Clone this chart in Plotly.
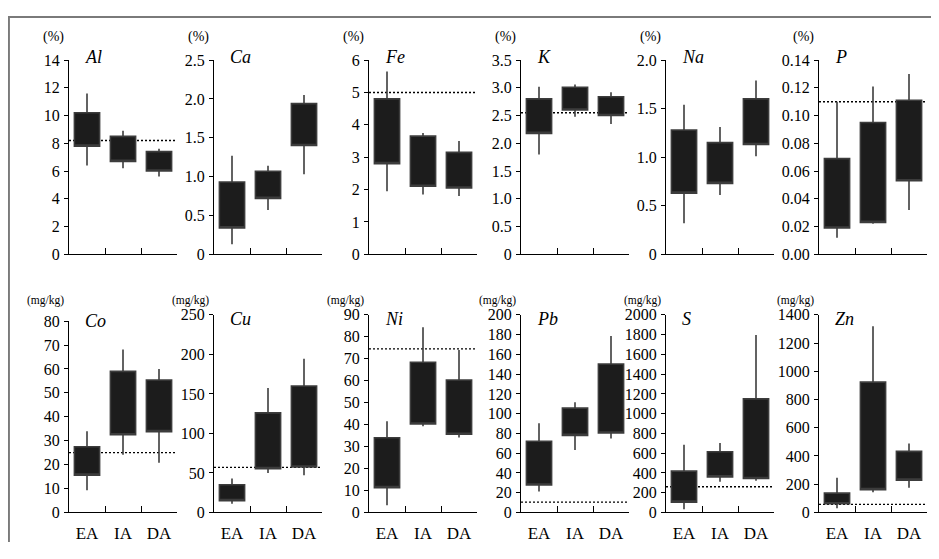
import plotly.graph_objects as go

# ---------------- data ----------------
categories = ["EA", "IA", "DA"]

elements = ["Al", "Ca", "Fe", "K", "Na", "P", "Co", "Cu", "Ni", "Pb", "S", "Zn"]
units = ["(%)"] * 6 + ["(mg/kg)"] * 6

# whisker low, box bottom (Q1), box top (Q3), whisker high  -> per site EA, IA, DA
al_min = [6.4, 6.2, 5.6]
al_q1 = [7.8, 6.7, 6.0]
al_q3 = [10.2, 8.5, 7.4]
al_max = [11.6, 8.9, 7.6]

ca_min = [0.13, 0.57, 1.03]
ca_q1 = [0.34, 0.72, 1.40]
ca_q3 = [0.93, 1.07, 1.94]
ca_max = [1.27, 1.14, 2.05]

fe_min = [1.95, 1.85, 1.8]
fe_q1 = [2.8, 2.1, 2.05]
fe_q3 = [4.8, 3.65, 3.15]
fe_max = [5.65, 3.75, 3.5]

k_min = [1.80, 2.48, 2.35]
k_q1 = [2.18, 2.60, 2.50]
k_q3 = [2.80, 3.01, 2.84]
k_max = [3.02, 3.06, 2.92]

na_min = [0.32, 0.61, 1.01]
na_q1 = [0.63, 0.73, 1.13]
na_q3 = [1.28, 1.15, 1.60]
na_max = [1.54, 1.31, 1.79]

p_min = [0.012, 0.022, 0.032]
p_q1 = [0.019, 0.023, 0.053]
p_q3 = [0.069, 0.095, 0.111]
p_max = [0.110, 0.121, 0.130]

co_min = [9.3, 24.1, 20.8]
co_q1 = [15.6, 32.5, 33.8]
co_q3 = [27.5, 59.0, 55.4]
co_max = [34.0, 68.1, 60.0]

cu_min = [11.0, 50.0, 47.0]
cu_q1 = [15.0, 55.5, 57.5]
cu_q3 = [35.0, 126.0, 160.0]
cu_max = [43.0, 157.5, 194.5]

ni_min = [3.3, 39.3, 34.1]
ni_q1 = [11.3, 40.3, 35.6]
ni_q3 = [34.0, 68.4, 60.3]
ni_max = [41.5, 84.4, 74.0]

pb_min = [21.3, 63.3, 74.8]
pb_q1 = [27.8, 78.0, 80.4]
pb_q3 = [72.1, 105.6, 150.2]
pb_max = [90.2, 111.5, 178.7]

s_min = [33, 311, 320]
s_q1 = [105, 360, 343]
s_q3 = [418, 615, 1150]
s_max = [686, 703, 1795]

zn_min = [30, 143, 175]
zn_q1 = [62, 162, 229]
zn_q3 = [137, 923, 433]
zn_max = [245, 1319, 489]

# reference (dotted) levels; None = no line
ref_levels = [8.2, None, 5.0, 2.55, None, 0.110, 25.0, 57.0, 74.5, 10.5, 260, 57]

# y tick values / labels
al_ticks = [0, 2, 4, 6, 8, 10, 12, 14]
ca_ticks = [0, 0.5, 1.0, 1.5, 2.0, 2.5]
fe_ticks = [0, 1, 2, 3, 4, 5, 6]
k_ticks = [0, 0.5, 1.0, 1.5, 2.0, 2.5, 3.0, 3.5]
na_ticks = [0, 0.5, 1.0, 1.5, 2.0]
p_ticks = [0.00, 0.02, 0.04, 0.06, 0.08, 0.10, 0.12, 0.14]
co_ticks = [0, 10, 20, 30, 40, 50, 60, 70, 80]
cu_ticks = [0, 50, 100, 150, 200, 250]
ni_ticks = [0, 10, 20, 30, 40, 50, 60, 70, 80, 90]
pb_ticks = [0, 20, 40, 60, 80, 100, 120, 140, 160, 180, 200]
s_ticks = [0, 200, 400, 600, 800, 1000, 1200, 1400, 1600, 1800, 2000]
zn_ticks = [0, 200, 400, 600, 800, 1000, 1200, 1400]

al_labels = [str(v) for v in al_ticks]
ca_labels = ["0", "0.5", "1.0", "1.5", "2.0", "2.5"]
fe_labels = [str(v) for v in fe_ticks]
k_labels = ["0", "0.5", "1.0", "1.5", "2.0", "2.5", "3.0", "3.5"]
na_labels = ["0", "0.5", "1.0", "1.5", "2.0"]
p_labels = ["0.00", "0.02", "0.04", "0.06", "0.08", "0.10", "0.12", "0.14"]
co_labels = [str(v) for v in co_ticks]
cu_labels = [str(v) for v in cu_ticks]
ni_labels = [str(v) for v in ni_ticks]
pb_labels = [str(v) for v in pb_ticks]
s_labels = [str(v) for v in s_ticks]
zn_labels = [str(v) for v in zn_ticks]

stats = [
    (al_min, al_q1, al_q3, al_max), (ca_min, ca_q1, ca_q3, ca_max),
    (fe_min, fe_q1, fe_q3, fe_max), (k_min, k_q1, k_q3, k_max),
    (na_min, na_q1, na_q3, na_max), (p_min, p_q1, p_q3, p_max),
    (co_min, co_q1, co_q3, co_max), (cu_min, cu_q1, cu_q3, cu_max),
    (ni_min, ni_q1, ni_q3, ni_max), (pb_min, pb_q1, pb_q3, pb_max),
    (s_min, s_q1, s_q3, s_max), (zn_min, zn_q1, zn_q3, zn_max),
]
ticks = [
    (al_ticks, al_labels), (ca_ticks, ca_labels), (fe_ticks, fe_labels),
    (k_ticks, k_labels), (na_ticks, na_labels), (p_ticks, p_labels),
    (co_ticks, co_labels), (cu_ticks, cu_labels), (ni_ticks, ni_labels),
    (pb_ticks, pb_labels), (s_ticks, s_labels), (zn_ticks, zn_labels),
]

# ---------------- layout geometry (page pixels) ----------------
PAGE_W, PAGE_H = 939, 559
OFF = 8                      # default <body> margin of the written page
W, H = PAGE_W - 2 * OFF, PAGE_H - 2 * OFF
col_left = [69, 214, 369, 521, 666, 819]
panel_w = 108
row_top = [53.5, 316.5]
row_bottom = [254, 520.5]
co_top = 323


def px_x(px):
    return (px - OFF) / W


def px_y(py):
    return 1 - (py - OFF) / H


FONT = "Liberation Serif, Times New Roman, serif"
BOX_FILL = "#1c1c1c"
BOX_LINE = "#3c3c3c"

fig = go.Figure()
layout = dict(
    width=W, height=H,
    margin=dict(l=0, r=0, t=0, b=0),
    paper_bgcolor="white", plot_bgcolor="white",
    showlegend=False,
    font=dict(family=FONT, size=16, color="black"),
    shapes=[], annotations=[],
)

for i, el in enumerate(elements):
    r, c = divmod(i, 6)
    n = i + 1
    xa = "x" if n == 1 else f"x{n}"
    ya = "y" if n == 1 else f"y{n}"
    xkey = "xaxis" if n == 1 else f"xaxis{n}"
    ykey = "yaxis" if n == 1 else f"yaxis{n}"

    is_co = el == "Co"
    top_px = co_top if is_co else row_top[r]
    x0 = px_x(col_left[c])
    x1 = px_x(col_left[c] + panel_w)
    y0 = px_y(row_bottom[r])
    y1 = px_y(top_px)

    lo, q1, q3, hi = stats[i]
    fig.add_trace(go.Box(
        x=categories, q1=q1, median=q1, q3=q3,
        lowerfence=lo, upperfence=hi,
        width=0.7, whiskerwidth=0,
        fillcolor=BOX_FILL,
        line=dict(color=BOX_LINE, width=1.6),
        boxpoints=False, hoverinfo="skip",
        xaxis=xa, yaxis=ya,
    ))

    tv, tt = ticks[i]
    layout[xkey] = dict(
        domain=[x0, x1], anchor=ya, type="category",
        categoryorder="array", categoryarray=categories,
        range=[-0.5, 2.5],
        showline=True, linecolor="black", linewidth=1.3,
        ticks="inside", ticklen=6, tickwidth=1.3, tickcolor="black",
        tickson="boundaries",
        showgrid=False, zeroline=False,
        showticklabels=(r == 1),
        tickfont=dict(family=FONT, size=17, color="black"),
        ticklabelstandoff=5,
        fixedrange=True,
    )
    layout[ykey] = dict(
        domain=[y0, y1], anchor=xa,
        range=[tv[0], tv[-1]],
        tickvals=tv, ticktext=tt,
        showline=True, linecolor="black", linewidth=1.3,
        ticks="outside", ticklen=4, tickwidth=1.3, tickcolor="black",
        showgrid=False, zeroline=False,
        tickfont=dict(family=FONT, size=16, color="black"),
        ticklabelstandoff=1,
        fixedrange=True,
    )

    ref = ref_levels[i]
    if ref is not None:
        layout["shapes"].append(dict(
            type="line", xref=f"{xa} domain", yref=ya,
            x0=0, x1=1, y0=ref, y1=ref, layer="below",
            line=dict(color="black", width=1.4, dash="2px,2px"),
        ))

    # unit label
    if r == 0:
        unit_shift = 13
    else:
        unit_shift = 6 + (co_top - row_top[1] if is_co else 0)
    layout["annotations"].append(dict(
        text=units[i], xref=f"{xa} domain", yref=f"{ya} domain",
        x=0, y=1, xanchor="right", yanchor="bottom",
        xshift=-3, yshift=unit_shift,
        showarrow=False,
        font=dict(family=FONT, size=(14 if r == 0 else 11.5), color="black"),
    ))
    # element label
    if r == 0:
        el_shift = 3
    else:
        el_shift = 0 if is_co else -4
    layout["annotations"].append(dict(
        text=f"<i>{el}</i>", xref=f"{xa} domain", yref=f"{ya} domain",
        x=0, y=1, xanchor="left", yanchor="middle",
        xshift=14, yshift=el_shift,
        showarrow=False,
        font=dict(family=FONT, size=18, color="black"),
    ))

# outer frame (left and top edges only, as in the scan)
layout["shapes"].append(dict(type="line", xref="paper", yref="paper",
                             x0=0.001, x1=0.001, y0=0, y1=1,
                             line=dict(color="#7a7a7a", width=2)))
layout["shapes"].append(dict(type="line", xref="paper", yref="paper",
                             x0=0, x1=1, y0=0.998, y1=0.998,
                             line=dict(color="#7a7a7a", width=2)))

fig.update_layout(**layout)
fig.write_html("out.html", config={"displayModeBar": False})
